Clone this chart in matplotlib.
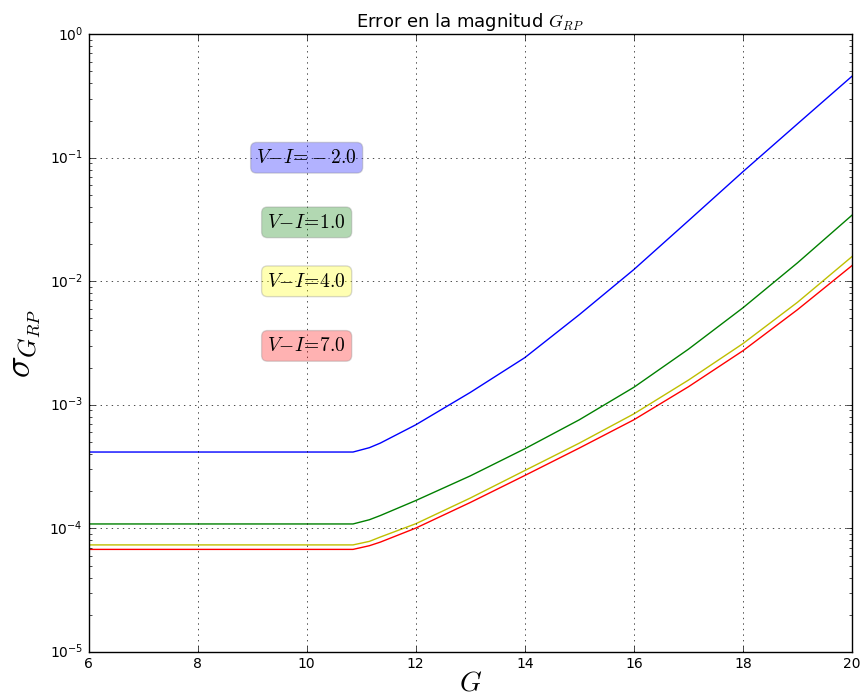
import numpy as np
import matplotlib
matplotlib.use("Agg")
from matplotlib import pyplot as plt
from matplotlib.ticker import LogLocator, NullFormatter

plt.style.use("classic")
plt.rcParams["mathtext.fontset"] = "cm"

G = [6, 10.85, 11.15, 11.35, 12, 13, 14, 15, 16, 17, 18, 19, 20]

sig_m2 = [4.15e-4, 4.15e-4, 4.50e-4, 4.90e-4, 6.89e-4, 1.26e-3, 2.41e-3,
          5.37e-3, 1.245e-2, 3.09e-2, 7.71e-2, 0.188, 0.457]
sig_1 = [1.086e-4, 1.086e-4, 1.175e-4, 1.27e-4, 1.68e-4, 2.66e-4, 4.41e-4,
         7.57e-4, 1.387e-3, 2.82e-3, 6.10e-3, 1.41e-2, 3.43e-2]
sig_4 = [7.35e-5, 7.35e-5, 7.85e-5, 8.51e-5, 1.09e-4, 1.76e-4, 2.94e-4,
         4.90e-4, 8.45e-4, 1.585e-3, 3.13e-3, 6.76e-3, 1.585e-2]
sig_7 = [6.76e-5, 6.76e-5, 7.24e-5, 7.74e-5, 1.005e-4, 1.62e-4, 2.68e-4,
         4.47e-4, 7.57e-4, 1.40e-3, 2.74e-3, 5.89e-3, 1.34e-2]

vi = [-2.0, 1.0, 4.0, 7.0]
series = [sig_m2, sig_1, sig_4, sig_7]
colors = ["b", "g", "y", "r"]
box_colors = ["blue", "green", "yellow", "red"]
label_y = [0.1, 0.03, 0.01, 0.003]

fig = plt.figure(figsize=(8.62, 6.98), dpi=100)
ax = fig.add_axes([0.1027, 0.066, 0.8857, 0.885])

for s, c in zip(series, colors):
    ax.plot(G, s, color=c, lw=1)

for v, yy, bc in zip(vi, label_y, box_colors):
    ax.text(10, yy, r"$V\!-\!I\!=\!%.1f$" % v, fontsize=14, ha="center", va="center",
            bbox=dict(boxstyle="round", facecolor=bc, edgecolor="0.5", alpha=0.3))

ax.set_yscale("log")
ax.set_xlim(6, 20)
ax.set_ylim(1e-5, 1)
ax.yaxis.set_minor_locator(LogLocator(base=10, subs=np.arange(2, 10), numticks=20))
ax.yaxis.set_minor_formatter(NullFormatter())
ax.tick_params(which="minor", length=2)
ax.grid(True)
ax.tick_params(labelsize=10)
ax.set_title(r"Error en la magnitud $G_{RP}$", fontsize=13)
ax.set_xlabel(r"$G$", fontsize=20, labelpad=-2)
ax.set_ylabel(r"$\sigma_{G_{RP}}$", fontsize=26)

fig.savefig("out.png", dpi=100)
